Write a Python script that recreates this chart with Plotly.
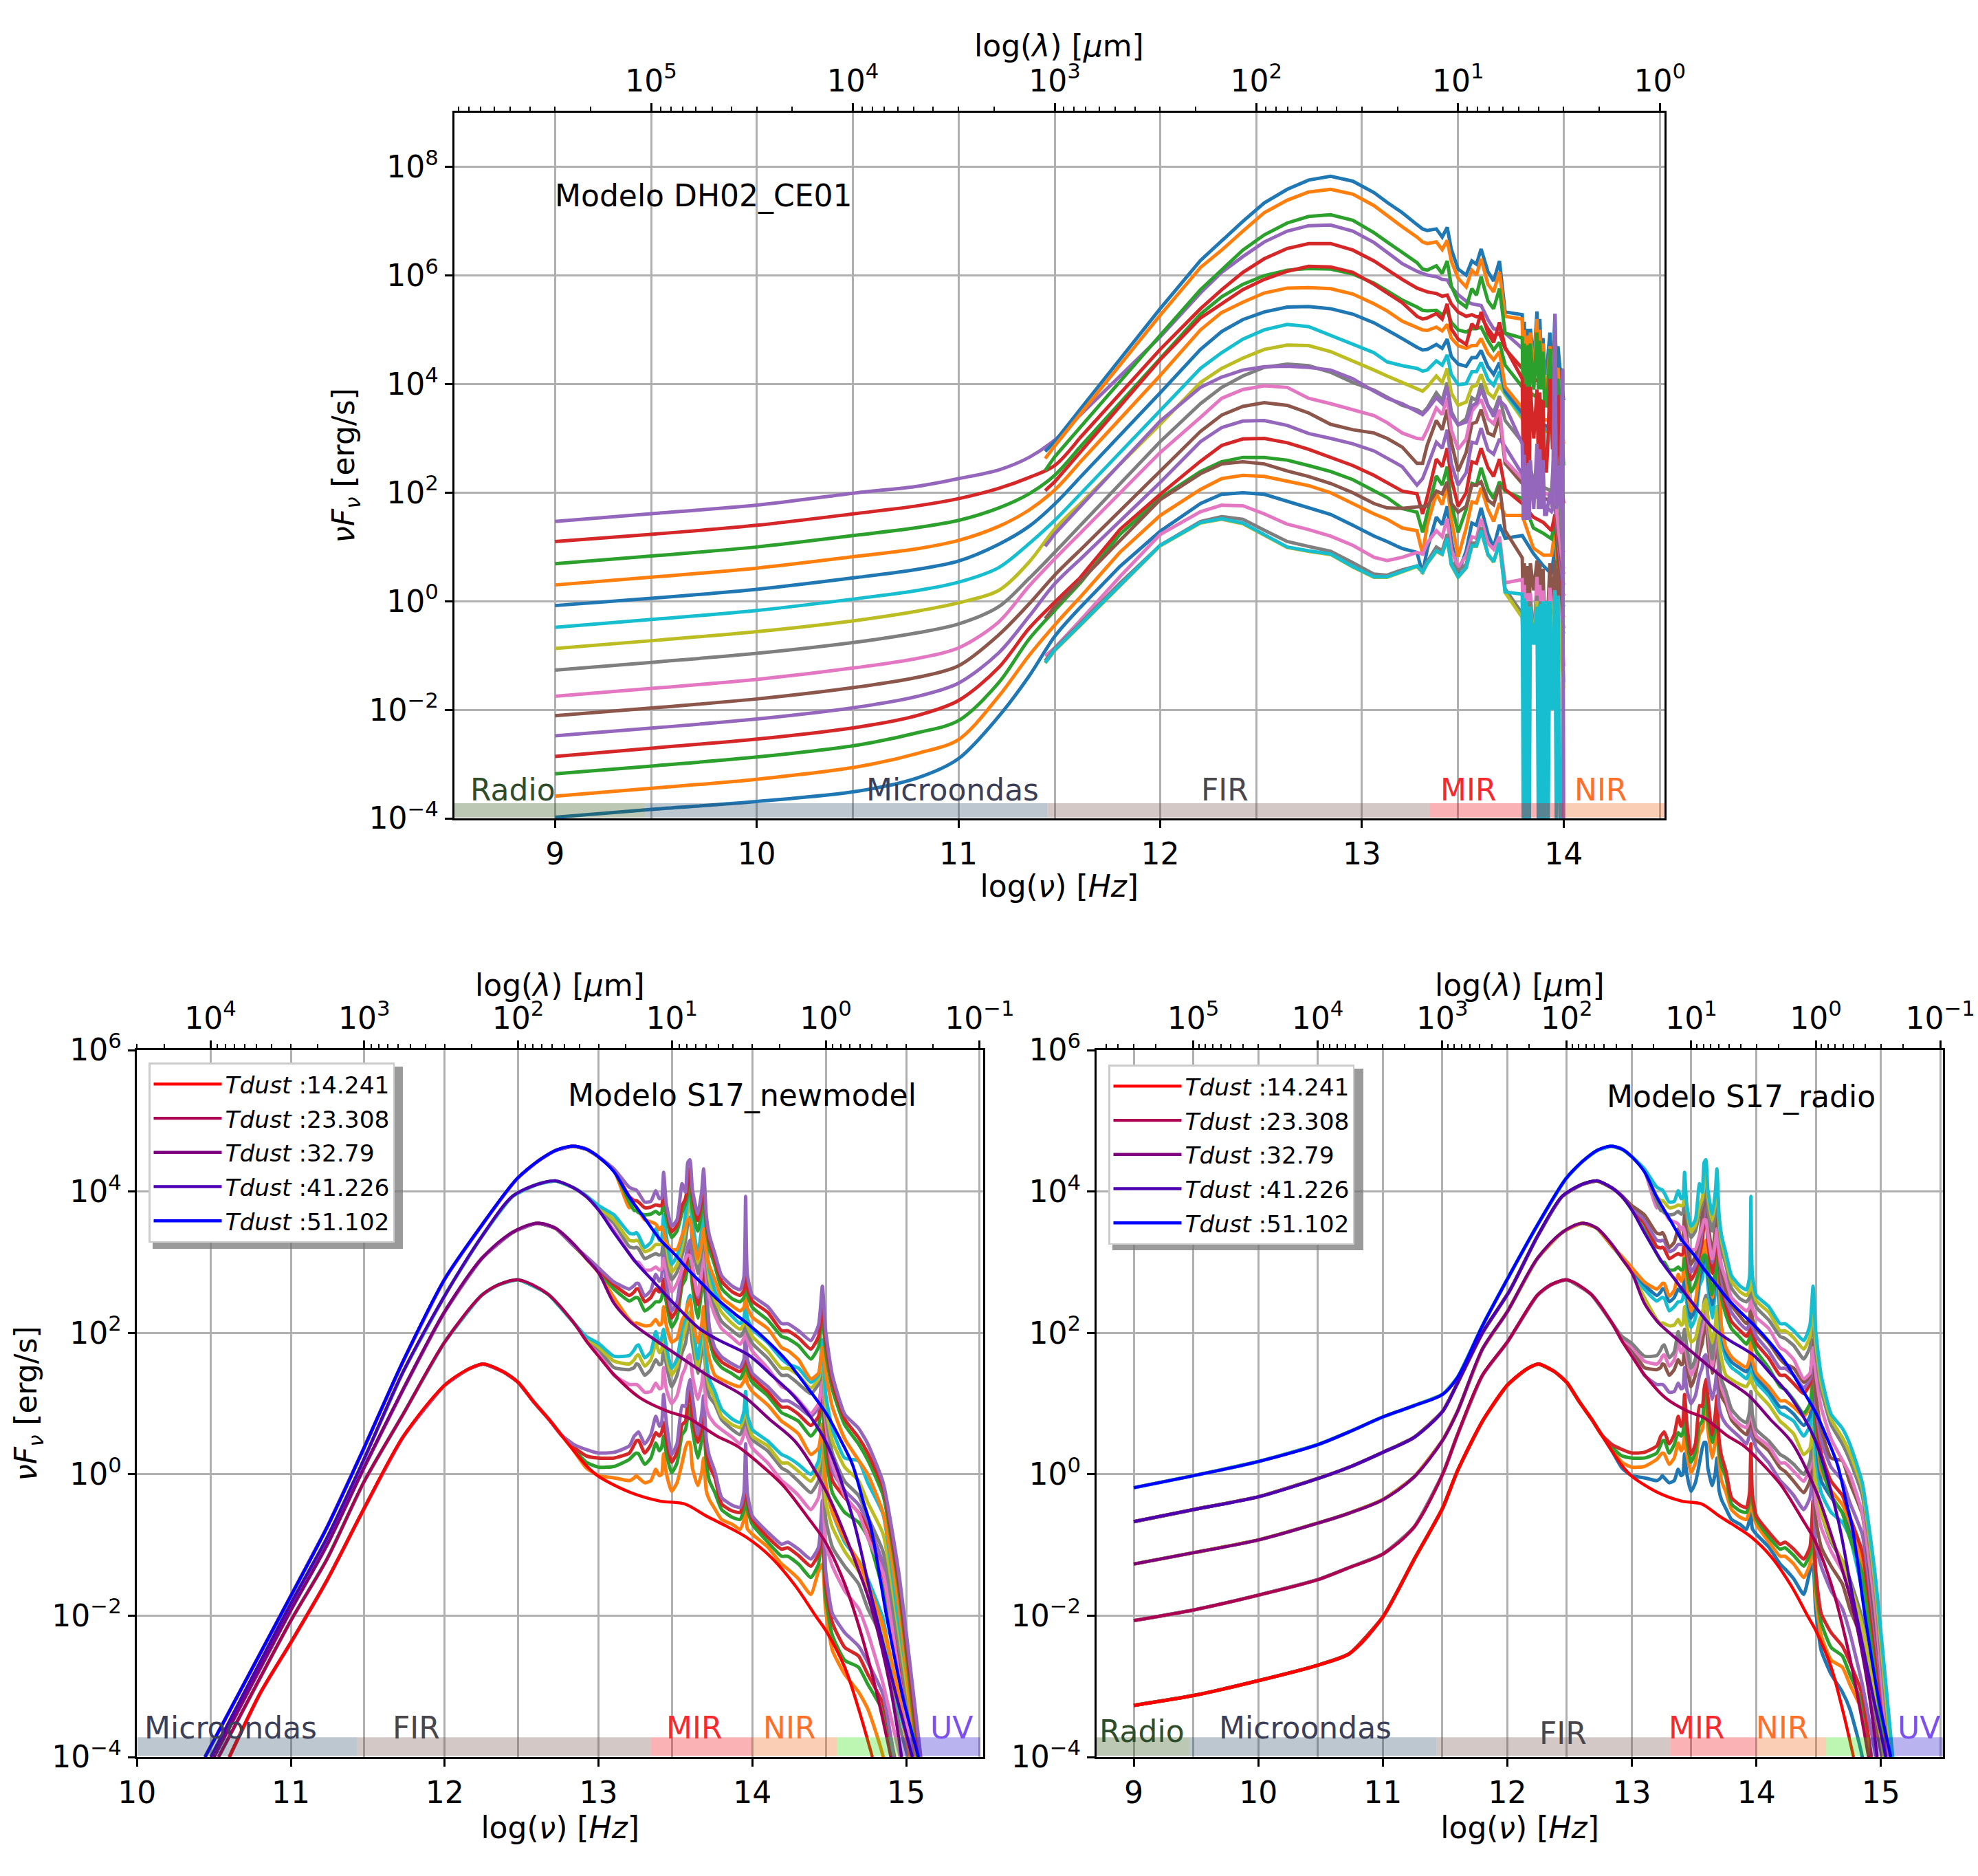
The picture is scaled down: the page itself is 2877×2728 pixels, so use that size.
import plotly.graph_objects as go

# ---------- top panel (DH02_CE01): log10(nu F_nu) ----------
dh_r = [9, 9.5, 10, 10.5, 10.8, 11, 11.2, 11.35, 11.477]
dh_s = [11.43, 11.477]
dh_i = [11.6, 11.8, 12, 12.2, 12.305, 12.41, 12.516, 12.63, 12.736, 12.845, 12.955, 13.06, 13.125, 13.2]
dh_m = [13.273, 13.301, 13.324, 13.369, 13.398, 13.423, 13.443, 13.477, 13.517, 13.545, 13.568, 13.591, 13.625, 13.653, 13.682, 13.71]
dh_t = [13.795, 13.85, 13.9, 13.94, 13.957, 13.975, 13.995, 14.0]
dh_k = [13.795,13.80,13.805,13.81,13.815,13.82,13.825,13.83,13.835,13.852,13.868,13.875,13.882,13.89,13.898,13.906,13.915,13.923,13.932,13.945,13.957,13.964,13.972,13.984,13.995,14.0]

dh00 = [-3.98,-3.83,-3.69,-3.5,-3.25,-2.9,-2.12,-1.38,-.65, -.13,.64,1.29,1.8,1.97,2.0,1.97,1.84,1.71,1.6,1.4,1.2,1.1,.97, .9,.51,.96,1.55,1.41,1.75,1.13,.51,.93,1.44,1.4,1.72,1.24,.99,1.41,1.16, 1.21,.88,.65,.5,1.0,.1,-.5,-.6]
dh01 = [-3.59,-3.44,-3.28,-3.05,-2.8,-2.55,-1.75,-1.0,-.44, .06,.9,1.58,2.06,2.26,2.32,2.3,2.22,2.13,2.0,1.8,1.61,1.51,1.35, 1.3,.87,1.41,1.98,1.78,2.14,1.52,.82,1.35,1.83,1.81,2.09,1.69,1.47,1.81,1.58, 1.58,.98,.85,.85,1.3,.4,-.2,-.3]
dh02 = [-3.18,-3.03,-2.87,-2.65,-2.42,-2.2,-1.5,-.7,-.17, .32,1.23,1.9,2.39,2.57,2.65,2.65,2.6,2.5,2.39,2.24,2.03,1.91,1.71, 1.64,1.27,1.64,2.31,2.14,2.48,1.81,1.27,1.69,2.17,2.14,2.46,2.06,1.89,2.2,2.03, 1.89,1.35,1.25,1.15,1.5,.6,0,-.1]
dh03 = [-2.86,-2.7,-2.54,-2.32,-2.1,-1.83,-1.22,-.5,-.02, .42,1.32,1.97,2.58,2.87,2.99,3.0,2.92,2.8,2.65,2.5,2.32,2.19,2.03, 1.98,1.61,1.92,2.62,2.48,2.82,2.26,1.75,2.0,2.57,2.54,2.82,2.46,2.3,2.62,2.06, 1.8,1.55,1.45,1.3,1.6,.8,.2,.1]
dh04 = [-2.48,-2.33,-2.17,-1.95,-1.75,-1.51,-.95,-.28,.32, .76,1.48,2.19,2.94,3.2,3.32,3.33,3.24,3.09,3.0,2.9,2.77,2.64,2.48, 2.14,2.26,2.48,2.93,2.82,3.16,2.54,2.14,2.37,2.93,2.91,3.19,2.79,2.71,2.99,2.85, 2.34,2.0,1.78,1.65,1.8,1.0,.4,.3]
dh05 = [-2.11,-1.96,-1.80,-1.58,-1.4,-1.19,-.62,-.05,.48, .93,1.66,2.39,3.13,3.43,3.59,3.66,3.61,3.47,3.26,3.16,3.1,3.0,2.84, 2.54,2.54,2.88,3.33,3.16,3.53,2.94,2.4,2.74,3.27,3.3,3.53,3.1,3.05,3.39,2.54, 2.17,2.05,1.9,1.85,1.9,1.1,.6,.5]
dh06 = [-1.75,-1.6,-1.44,-1.22,-1.05,-.86,-.38,.28,.78, 1.24,2.0,2.74,3.39,3.74,3.9,3.97,3.94,3.74,3.64,3.53,3.42,3.29,3.1, 3.0,2.99,3.16,3.56,3.44,3.75,3.16,2.8,2.99,3.5,3.61,3.72,3.36,3.27,3.53,2.6, 2.26,2.15,2.0,1.95,2.0,1.3,.7,.6]
dh07 = [-1.27,-1.12,-.96,-.75,-.58,-.42,-.10,.42,.9, 1.38,2.16,2.94,3.64,3.94,4.15,4.31,4.37,4.34,4.22,4.03,3.89,3.76,3.61, 3.53,3.47,3.56,3.84,3.7,4.03,3.5,3.25,3.36,3.75,3.7,4.01,3.61,3.47,3.78,3.33, 2.93,2.25,2.1,2.03,3.05,2.0,.96,.9]
dh08 = [-.87,-.72,-.56,-.35,-.18,-.03,.20,.72,1.33, 1.78,2.52,3.26,4.03,4.29,4.48,4.64,4.72,4.71,4.6,4.43,4.26,4.15,4.03, 3.92,3.87,3.95,4.15,4.03,4.29,3.84,3.61,3.67,3.95,3.98,4.18,3.84,3.75,3.98,3.81, 3.36,3.25,3.15,3.1,3.3,3.1,3.03,3.03]
dh09 = [-.48,-.33,-.17,.05,.20,.35,.62,1.06,1.49, 1.96,2.73,3.51,4.29,4.58,4.83,5.0,5.1,5.06,4.9,4.74,4.58,4.41,4.34, 4.29,4.24,4.26,4.43,4.35,4.54,4.18,3.99,4.01,4.23,4.23,4.4,4.09,3.98,4.23,3.84, 3.41,3.28,3.18,3.14,3.3,3.12,3.05,3.05]
dh10 = [-.08,.06,.22,.44,.59,.74,1.05,1.38,1.79, 2.27,3.05,3.84,4.64,4.97,5.19,5.33,5.42,5.43,5.39,5.29,5.13,5.0,4.84, 4.68,4.63,4.64,4.73,4.66,4.83,4.51,4.37,4.33,4.49,4.49,4.62,4.32,4.18,4.4,3.87, 3.47,3.33,3.25,3.2,3.3,3.2,3.12,3.12]
dh11 = [.30,.45,.61,.83,.97,1.12,1.38,1.68,2.05, 2.55,3.35,4.16,5.0,5.32,5.51,5.68,5.77,5.78,5.76,5.66,5.48,5.35,5.16, 5.05,5.0,4.99,5.05,4.98,5.1,4.85,4.71,4.66,4.71,4.71,4.84,4.57,4.45,4.6,3.95, 3.56,3.45,3.35,3.32,3.6,3.3,3.27,3.27]
dh12 = [.69,.84,1.00,1.22,1.36,1.49,1.72,1.98,2.32, 2.83,3.65,4.48,5.29,5.61,5.84,6.0,6.1,6.13,6.12,6.03,5.86,5.72,5.55, 5.42,5.36,5.35,5.36,5.28,5.36,5.14,5.0,4.96,5.02,5.02,5.05,4.8,4.63,4.77,4.35, 3.95,3.81,3.67,3.64,3.84,3.6,3.58,3.58]
dh13 = [1.10,1.24,1.40,1.62,1.76,1.89,2.08,2.28,2.5, 3.0,3.82,4.64,5.39,5.74,6.06,6.31,6.5,6.59,6.59,6.47,6.27,6.11,5.93, 5.77,5.73,5.7,5.67,5.62,5.64,5.48,5.33,5.25,5.28,5.24,5.25,5.02,4.88,4.94,4.65, 4.29,4.1,4.0,3.98,4.3,3.95,3.92,3.92]
dh14 = [1.47,1.62,1.77,2.0,2.12,2.26,2.42,2.65,2.97, 3.42,4.15,4.87,5.68,6.06,6.35,6.62,6.82,6.92,6.93,6.82,6.61,6.42,6.22, 6.08,6.04,6.01,5.98,5.93,5.92,5.79,5.65,5.53,5.48,5.46,5.45,5.19,5.02,5.01,4.94, 4.66,4.5,4.38,4.3,4.35,4.28,4.26,-6]
dh15 = [-.32,-.1, .36,1.12,1.87,2.35,2.53,2.57,2.53,2.4,2.3,2.17,2.0,1.8,1.72,1.71, 1.75,1.75,1.75,2.03,1.98,2.2,1.81,1.64,1.75,2.14,2.14,2.2,1.86,1.78,2.14,1.3, .8,-.2,.7,-.2,.65,-.2,.65,-.2,.7,.2,.75,-.1,.7,-.1,.6,-.6,-1.9,-.1,.7,-.2,.75,-.1,.6,0,-.3,-.5]
dh16 = [-1.01,-.86, -.37,.45,1.23,1.65,1.77,1.76,1.61,1.42,1.32,1.2,1.03,.81,.75,.81, .9,.87,1.07,1.3,1.19,1.52,.96,.62,.84,1.19,1.16,1.52,1.07,.96,1.19,.34, .4,-.3,.3,-.3,.15,-.3,.15,-.3,.15,-.74,.45,-.3,.3,-.3,.2,-1,-2.17,-.3,.25,-.4,.2,-.5,.1,-.4,-.8,-1.2]
dh17 = [-1.1,-.87, -.42,.33,1.03,1.47,1.56,1.51,1.31,1.1,1.01,.92,.71,.5,.48,.58, .65,.56,.73,1.0,.93,1.24,.73,.56,.68,1.07,1.07,1.36,.85,.73,1.07,.23, -.23,-1,-.1,-1,-.1,-1,0,-1,0,-.6,.1,-1,0,-1,-.1,-1.5,-2,-1,-.1,-.6,.15,-.7,0,-.6,-1,-1.5]
dh18 = [-1.14,-.91, -.46,.28,1.02,1.44,1.51,1.43,1.22,.99,.92,.86,.63,.44,.44,.54, .64,.53,.69,.92,.86,1.15,.67,.44,.61,1.01,1.01,1.29,.86,.72,1.06,.16, -.3,-1.2,-.2,-1.2,-.2,-1.2,-.1,-1.2,-.1,-.7,0,-1.2,-.1,-1.2,-.2,-1.5,-2,-1.2,-.2,-.7,.1,-.8,0,-.7,-1.2,-1.6]
dh19 = [-1.13,-.9, -.45,.29,1.03,1.45,1.52,1.44,1.23,1.0,.93,.87,.64,.45,.45,.55, .65,.54,.7,.93,.87,1.16,.68,.45,.62,1.02,1.02,1.3,.87,.73,1.07,.17, .13,-4.3,.05,-4.3,0,-4.3,-.1,-4.3,-.1,-.8,-.1,-4.3,-.05,-4.3,0,-4.3,0,-4.3,0,-2,.2,-4.3,.1,-4.3,-5,-5]
dh20 = [2.76,2.94, 3.52,4.45,5.39,6.28,6.65,7.0,7.34,7.59,7.76,7.83,7.74,7.53,7.35,7.16, 6.94,6.86,6.83,6.86,6.71,6.89,6.49,6.12,6.01,6.27,6.21,6.49,6.07,5.9,6.27,5.33, 5.28,4.2,5.15,4.2,5.02,4.2,5.02,4.2,5.02,4.4,5.34,4.4,5.2,4.4,4.85,4.2,4.2,4.5,4.95,4.0,5.3,4.2,4.7,4.2,3.9,3.7]
dh21 = [2.63,2.86, 3.43,4.35,5.27,6.15,6.47,6.82,7.16,7.39,7.54,7.59,7.5,7.29,7.1,6.9, 6.71,6.62,6.59,6.62,6.48,6.65,6.27,5.95,5.79,6.1,6.01,6.31,5.84,5.7,6.07,5.25, 5.2,4.0,5.0,4.0,4.88,4.0,4.9,4.0,4.95,4.2,5.2,4.2,5.0,4.2,4.75,3.8,3.8,4.3,4.7,3.6,5.0,3.5,4.3,3.5,3.0,2.9]
dh22 = [2.41,2.66, 3.19,4.05,4.9,5.74,6.1,6.47,6.75,6.97,7.09,7.12,7.02,6.79,6.62,6.43, 6.24,6.12,6.1,6.18,6.04,6.27,5.81,5.53,5.42,5.76,5.64,5.98,5.53,5.39,5.76,4.94, 4.85,3.5,4.75,3.5,4.7,3.5,4.72,3.5,4.75,3.9,4.95,3.9,4.8,3.9,4.6,3.6,3.6,4.0,4.65,3.5,4.8,3.6,4.1,3.6,2.7,2.5]
dh23 = [2.04,2.2, 2.73,3.59,4.45,5.22,5.48,5.74,5.93,6.08,6.17,6.16,6.06,5.84,5.68,5.5, 5.25,5.2,5.22,5.3,5.2,5.48,5.02,4.83,4.73,5.11,5.02,5.33,4.94,4.77,5.14,4.68, 4.1,2.3,4.0,2.3,3.95,2.3,3.95,2.3,3.95,3.0,3.9,2.5,3.85,2.5,3.7,2.4,2.4,3.0,4.1,2.8,4.3,2.5,3.8,2.5,2.0,1.8]
dh24 = [1.01,1.24, 1.73,2.52,3.32,3.94,4.13,4.26,4.32,4.33,4.31,4.26,4.1,3.87,3.74,3.64, 3.5,3.44,3.53,3.75,3.64,3.95,3.44,3.25,3.3,3.6,3.65,3.9,3.6,3.4,3.7,3.6, 2.9,1.5,2.7,1.5,2.5,1.5,2.55,1.5,2.6,1.7,2.9,1.7,2.8,1.7,2.6,1.6,1.6,1.8,2.0,1.7,5.3,1.7,2.5,1.7,4.26,-6]

# ---------- bottom panels (S17): base curves ----------
b14_x = [10.6,10.8,11,11.235,11.477,11.73,12,12.157,12.25,12.38,12.477,12.58,12.68,12.756,12.84,12.926,13,13.21,13.4,13.56,13.7,13.8,13.96,14.12,14.28,14.41,14.477,14.6,14.7,14.78]
b14_y = [-4,-3.1,-2.38,-1.5,-.48,.53,1.26,1.49,1.56,1.45,1.3,1.02,.77,.56,.33,.11,-.03,-.26,-.38,-.42,-.59,-.7,-.89,-1.17,-1.58,-2.0,-2.21,-2.73,-3.39,-4]
b23_x = [10.53,11,11.235,11.477,11.73,12,12.24,12.35,12.477,12.67,12.84,12.926,13,13.1,13.27,13.45,13.58,13.67,13.77,13.9,14.04,14.2,14.36,14.475,14.6,14.71,14.81,14.9]
b23_y = [-4,-2.07,-1.2,-.1,.85,1.87,2.53,2.68,2.75,2.55,2.14,1.87,1.67,1.41,1.08,.89,.8,.68,.54,.4,.16,-.16,-.61,-.96,-1.55,-2.28,-3.11,-4]
b32_x = [10.5,11,11.235,11.477,11.73,12,12.24,12.44,12.6,12.72,12.85,12.92,13,13.1,13.2,13.25,13.475,13.73,13.94,14.11,14.28,14.477,14.6,14.76,14.89,14.97]
b32_y = [-4,-1.92,-1.0,.1,1.2,2.3,3.05,3.42,3.55,3.48,3.23,3.05,2.85,2.42,2.17,2.08,1.74,1.37,1.11,.78,.46,-.23,-.85,-1.79,-2.94,-4]
b41_x = [10.48,11,11.235,11.477,11.73,12.02,12.24,12.44,12.6,12.72,12.84,12.92,13,13.1,13.2,13.25,13.36,13.475,13.65,13.77,13.98,14.11,14.28,14.47,14.65,14.77,14.94,15.04]
b41_y = [-4,-1.83,-.9,.22,1.45,2.6,3.36,3.93,4.1,4.15,4.05,3.93,3.74,3.42,3.12,2.98,2.72,2.45,2.07,1.91,1.68,1.43,1.08,.49,-.6,-1.7,-3.17,-4]
b51_x = [10.442,11,11.235,11.477,11.73,12,12.24,12.47,12.6,12.72,12.83,12.93,13,13.1,13.2,13.3,13.4,13.5,13.58,13.68,13.77,13.88,13.98,14.1,14.23,14.35,14.48,14.57,14.65,14.72,14.77,14.875,14.98,15.08]
b51_y = [-4,-1.72,-.75,.38,1.6,2.76,3.52,4.18,4.42,4.58,4.64,4.59,4.49,4.28,3.92,3.62,3.32,3.1,2.9,2.68,2.48,2.28,2.11,1.88,1.59,1.25,.86,.5,.14,-.38,-.75,-2.04,-3.17,-4]

# radio extension of the right-hand panel
rad_x = [9,9.48,10,10.48,10.73,11,11.25,11.48,11.6,11.8]
rad14 = [-3.27,-3.13,-2.92,-2.7,-2.54,-2.02,-1.21,-.48,.05,.75]
rad23 = [-2.07,-1.92,-1.71,-1.49,-1.32,-1.13,-.75,0,.56,1.4]
rad32 = [-1.27,-1.11,-.93,-.69,-.55,-.36,-.04,.48,.89,1.77]
rad41 = [-.67,-.5,-.32,-.06,.1,.31,.52,.89,1.29,2.0]
rad51 = [-.19,-.02,.18,.42,.6,.81,.97,1.13,1.37,2.1]

# mid-IR to UV grid of the PAH variants
pah_x = [12.84,12.92,13.0,13.1,13.2,13.232,13.245,13.26,13.3,13.34,13.372,13.395,13.41,13.423,13.44,13.475,13.51,13.543,13.565,13.58,13.594,13.61,13.645,13.67,13.683,13.70,13.72,13.756,13.8,13.87,13.92,13.945,13.956,13.967,14.0,14.1,14.19,14.23,14.3,14.38,14.43,14.455,14.475,14.52,14.6,14.69,14.75,14.85,14.95,15.1]

t14_v0 = [.33,.09,-.02,-.05,-.09,-.05,-.02,-.05,-.12,-.09,.07,-.02,0,.29,.02,-.24,-.12,.16,.37,.45,.45,.09,-.16,.02,.23,-.23,-.36,-.49,-.64,-.71,-.78,-.64,-.52,-.77,-.85,-1.03,-1.27,-1.34,-1.48,-1.7,-1.37,-1.27,-1.9,-2.49,-2.83,-3.08,-3.32,-4.0,-6,-6]
t14_v1 = [.35,.17,.1,.11,.21,.28,.3,.29,.14,.23,.44,.33,.38,.54,.3,.02,.16,.56,.63,.82,.97,.64,.23,.47,.71,.19,-.09,-.26,-.5,-.61,-.64,-.5,-.26,-.5,-.71,-.96,-1.16,-1.16,-1.27,-1.46,-1.27,-.82,-1.72,-2.28,-2.63,-2.73,-2.97,-3.36,-4.5,-6]
t14_v2 = [.38,.26,.23,.23,.30,.42,.47,.48,.3,.42,.59,.54,.59,.73,.5,.17,.31,.7,.75,1.03,1.18,.82,.45,.64,1.0,.35,.12,-.05,-.42,-.52,-.54,-.37,0,-.37,-.64,-.89,-1.06,-1.04,-1.15,-1.3,-1.13,-.75,-1.55,-2.1,-2.45,-2.57,-2.83,-3.25,-4.3,-6]
t14_v3 = [.42,.35,.3,.31,.40,.54,.57,.6,.43,.56,.82,.68,.73,1.13,.75,.28,.43,.97,.96,1.2,1.34,1.1,.56,.85,1.11,.5,.26,.04,-.33,-.44,-.47,-.26,.43,-.26,-.59,-.82,-.99,-.96,-1.06,-1.2,-1.03,-.37,-1.34,-1.97,-2.24,-2.43,-2.66,-3.12,-4.4,-6]

t23_v0 = [2.14,1.89,1.72,1.4,1.27,1.27,1.27,1.25,1.16,1.17,1.29,1.21,1.22,1.51,1.21,1.0,1.11,1.4,1.51,1.66,1.69,1.4,1.06,1.27,1.47,.96,.82,.71,.63,.52,.43,.57,.99,.54,.37,.16,-.09,-.16,-.3,-.5,-.33,.02,-.96,-1.3,-1.65,-1.9,-2.24,-2.97,-3.9,-5.2]
t23_v1 = [2.14,1.92,1.77,1.51,1.48,1.51,1.56,1.55,1.4,1.48,1.62,1.55,1.56,1.79,1.56,1.24,1.4,1.72,1.85,2.05,2.16,1.85,1.43,1.72,1.89,1.37,1.1,.99,.77,.63,.56,.71,1.06,.68,.49,.33,.09,.04,-.1,-.26,-.09,.37,-.61,-1.03,-1.3,-1.55,-1.9,-2.35,-3.5,-4.7]
t23_v2 = [2.14,1.93,1.8,1.6,1.56,1.62,1.67,1.69,1.53,1.62,1.85,1.72,1.76,1.95,1.69,1.4,1.53,1.89,2.05,2.21,2.3,2.05,1.53,1.89,2.05,1.5,1.23,1.06,.82,.7,.66,.82,1.17,.78,.54,.4,.16,.16,.04,-.1,.09,.6,-.37,-.75,-1.09,-1.37,-1.65,-2.2,-3.3,-4.5]
t23_v3 = [2.14,1.95,1.85,1.67,1.68,1.76,1.81,1.83,1.65,1.73,2.02,1.85,1.92,2.05,1.82,1.5,1.63,2.05,2.21,2.44,2.53,2.21,1.63,2.05,2.3,1.65,1.34,1.17,.92,.78,.73,.89,1.17,.85,.63,.47,.28,.24,.14,0,.19,.71,-.12,-.54,-.96,-1.22,-1.48,-2.05,-3.3,-4.4]

t32_v0 = [3.23,3.05,2.85,2.5,2.19,2.13,2.14,2.13,2.1,2.11,2.19,2.11,2.13,2.37,2.11,1.87,1.92,2.18,2.27,2.4,2.47,2.21,1.86,2.11,2.37,1.89,1.63,1.4,1.34,1.27,1.24,1.32,1.46,1.29,1.17,.98,.75,.69,.57,.28,.37,.71,-.09,-.54,-.92,-1.23,-1.55,-2.14,-3.1,-5]
t32_v1 = [3.23,3.06,2.87,2.62,2.45,2.49,2.5,2.49,2.31,2.37,2.44,2.44,2.49,2.67,2.44,2.08,2.21,2.67,2.76,2.96,3.02,2.67,2.21,2.6,2.79,2.37,1.92,1.63,1.51,1.42,1.35,1.46,1.72,1.46,1.3,1.11,.87,.83,.75,.54,.69,1.08,.3,-.26,-.54,-.68,-.89,-1.65,-2.8,-4.9]
t32_v2 = [3.23,3.07,2.89,2.68,2.53,2.58,2.62,2.62,2.44,2.5,2.62,2.58,2.62,2.76,2.57,2.21,2.34,2.76,2.89,3.09,3.22,2.83,2.4,2.76,2.96,2.57,2.05,1.72,1.59,1.5,1.45,1.56,1.85,1.56,1.37,1.17,.95,.95,.85,.69,.82,1.24,.6,-.09,-.33,-.54,-.75,-1.44,-2.6,-4.7]
t32_v3 = [3.23,3.08,2.92,2.72,2.62,2.67,2.7,2.7,2.52,2.6,2.83,2.73,2.79,3.35,2.73,2.31,2.44,2.92,3.05,3.22,3.31,2.96,2.5,2.96,3.28,2.73,2.08,1.79,1.66,1.56,1.51,1.63,2.05,1.63,1.43,1.24,1.04,1.04,.95,.82,.95,1.45,.81,.05,-.23,-.43,-.68,-1.27,-2.4,-4.5]

t41_v0 = [4.05,3.93,3.74,3.45,3.12,3.02,3.0,3.0,2.89,2.89,2.93,2.89,2.9,3.05,2.9,2.58,2.7,2.9,3.05,3.1,3.09,2.95,2.54,2.85,3.15,2.85,2.5,2.25,2.06,1.93,1.84,1.93,2.2,1.9,1.74,1.5,1.24,1.2,1.05,.86,1.0,1.3,.75,.15,-.3,-.55,-.9,-1.4,-2.8,-4.8]
t41_v1 = [4.05,3.93,3.76,3.55,3.22,3.2,3.21,3.19,3.05,3.09,3.12,3.1,3.12,3.35,3.1,2.75,2.86,3.1,3.3,3.55,3.64,3.3,2.84,3.15,3.4,3.05,2.65,2.38,2.16,2.03,1.95,2.03,2.3,2.0,1.85,1.64,1.4,1.4,1.28,1.14,1.28,1.6,.9,.3,-.1,-.3,-.6,-1.1,-2.4,-4.6]
t41_v2 = [4.05,3.94,3.78,3.6,3.31,3.3,3.31,3.3,3.15,3.18,3.25,3.25,3.26,3.5,3.25,2.86,2.96,3.22,3.47,3.73,3.86,3.47,2.99,3.28,3.57,3.18,2.76,2.47,2.29,2.13,2.05,2.13,2.37,2.1,1.95,1.74,1.5,1.5,1.4,1.22,1.35,1.7,1.0,.47,.1,-.09,-.4,-.85,-2.2,-4.4]
t41_v3 = [4.05,3.94,3.8,3.67,3.41,3.4,3.42,3.38,3.21,3.28,3.47,3.31,3.34,3.67,3.38,2.97,3.09,3.34,3.67,3.9,4.03,3.6,3.12,3.47,3.77,3.31,2.89,2.6,2.39,2.23,2.13,2.21,2.44,2.21,2.05,1.86,1.63,1.56,1.5,1.3,1.4,1.9,1.15,.64,.23,.19,-.12,-.57,-2.07,-4.2]

t51_v0 = [4.64,4.6,4.49,4.3,3.77,3.8,3.78,3.73,3.6,3.57,3.54,3.46,3.5,3.43,3.28,3.18,3.18,3.38,3.5,3.6,3.6,3.4,3.05,3.28,3.47,3.15,2.95,2.75,2.5,2.38,2.31,2.36,2.5,2.36,2.22,2.06,1.79,1.75,1.62,1.35,1.43,1.79,1.45,.95,.5,.2,0,-.55,-1.85,-4.7]
t51_v1 = [4.64,4.6,4.49,4.3,3.85,3.73,3.73,3.7,3.67,3.68,3.72,3.68,3.7,3.85,3.65,3.35,3.44,3.7,3.82,3.95,4.09,3.75,3.44,3.7,3.9,3.5,3.2,2.95,2.63,2.48,2.44,2.5,2.95,2.55,2.36,2.18,1.95,1.92,1.82,1.63,1.8,2.3,1.75,1.2,.7,.43,.2,-.3,-1.6,-4.5]
t51_v2 = [4.64,4.6,4.49,4.3,3.93,3.87,3.87,3.85,3.77,3.78,3.81,3.8,3.8,3.95,3.8,3.43,3.52,3.8,3.9,4.1,4.32,3.95,3.59,3.85,4.1,3.6,3.3,3.03,2.73,2.58,2.53,2.6,3.2,2.65,2.45,2.29,2.03,2.03,1.93,1.77,1.95,2.45,1.9,1.3,.78,.52,.3,-.2,-1.5,-4.3]
t51_v3 = [4.64,4.6,4.49,4.32,4.06,4.03,4.02,3.98,3.85,3.86,4.01,3.9,3.91,4.27,3.83,3.51,3.6,4.11,3.99,4.41,4.45,4.03,3.68,3.99,4.32,3.67,3.38,3.12,2.81,2.66,2.61,2.79,3.93,2.83,2.53,2.37,2.13,2.13,2.03,1.89,2.11,2.66,2.05,1.4,.85,.65,.43,-.12,-1.37,-4.1]

tdust_labels = ["14.241", "23.308", "32.79", "41.226", "51.102"]
tdust_colors = ["#ff0000", "#ad0052", "#7f007f", "#4c00b2", "#0000ff"]

top_ticks = [1e5, 1e4, 1e3, 1e2, 1e1, 1e0, 1e-1]
top_text = ["10<sup>5</sup>", "10<sup>4</sup>", "10<sup>3</sup>", "10<sup>2</sup>", "10<sup>1</sup>", "10<sup>0</sup>", "10<sup>−1</sup>"]
y_ticks_top = [1e-4, 1e-2, 1e0, 1e2, 1e4, 1e6, 1e8]
y_text_top = ["10<sup>−4</sup>", "10<sup>−2</sup>", "10<sup>0</sup>", "10<sup>2</sup>", "10<sup>4</sup>", "10<sup>6</sup>", "10<sup>8</sup>"]

W, H = 2877, 2728
BLUE, ORANGE, GREEN, RED, PURPLE = "#1f77b4", "#ff7f0e", "#2ca02c", "#d62728", "#9467bd"
BROWN, PINK, GRAY, OLIVE, CYAN = "#8c564b", "#e377c2", "#7f7f7f", "#bcbd22", "#17becf"
TAB = [BLUE, ORANGE, GREEN, RED, PURPLE, BROWN, PINK, GRAY, OLIVE, CYAN]
LW, LB = 5, 4.4
FONT = "DejaVu Sans"
FS, FL = 44, 34.4


def ten(v):
    return [10.0 ** a for a in v]


fig = go.Figure()


def line(x, ylog, color, xa, ya, width=LW, smooth=None, **kw):
    ln = dict(color=color, width=width)
    if smooth:
        ln.update(shape="spline", smoothing=smooth)
    fig.add_trace(go.Scatter(x=x, y=ten(ylog), mode="lines", line=ln,
                             xaxis=xa, yaxis=ya, hoverinfo="skip", showlegend=kw.pop("showlegend", False), **kw))


# top panel: the radio stretch is smooth, the rest a coarse polyline
dh_rows = [dh00, dh01, dh02, dh03, dh04, dh05, dh06, dh07, dh08, dh09, dh10, dh11, dh12, dh13, dh14,
           dh15, dh16, dh17, dh18, dh19, dh20, dh21, dh22, dh23, dh24]
x_a = dh_r + dh_i + dh_m + dh_t
x_b = dh_s + dh_i + dh_m + dh_k
nr = len(dh_r)
for i, row in enumerate(dh_rows):
    if i < 15:
        assert len(row) == len(x_a)
        line(x_a[:nr + 1], row[:nr + 1], TAB[i % 10], "x", "y", smooth=0.9)
        line(x_a[nr:], row[nr:], TAB[i % 10], "x", "y")
    else:
        assert len(row) == len(x_b)
        line(x_b, row, TAB[i % 10], "x", "y")

groups = [
    (b14_x, b14_y, rad14, 12.76, [t14_v0, t14_v1, t14_v2, t14_v3]),
    (b23_x, b23_y, rad23, 12.68, [t23_v0, t23_v1, t23_v2, t23_v3]),
    (b32_x, b32_y, rad32, 12.73, [t32_v0, t32_v1, t32_v2, t32_v3]),
    (b41_x, b41_y, rad41, 12.73, [t41_v0, t41_v1, t41_v2, t41_v3]),
    (b51_x, b51_y, rad51, 12.835, [t51_v0, t51_v1, t51_v2, t51_v3]),
]
mid_colors = [[ORANGE, GREEN, RED, PURPLE], [PINK, GRAY, OLIVE, CYAN], [ORANGE, GREEN, RED, PURPLE],
              [PINK, GRAY, OLIVE, CYAN], [ORANGE, GREEN, RED, PURPLE]]
right_colors = [[BLUE, ORANGE, GREEN, RED], [PURPLE, BROWN, PINK, GRAY], [OLIVE, CYAN, BLUE, ORANGE],
                [GREEN, RED, PURPLE, BROWN], [PINK, GRAY, OLIVE, CYAN]]

# middle panel: variants, then base curves
for (bx, by, rad, cut, vs), cols in zip(groups, mid_colors):
    px = [a for a in bx if a <= cut]
    py = by[:len(px)]
    for v, c in zip(vs, cols):
        assert len(v) == len(pah_x)
        line(px + pah_x, py + v, c, "x3", "y2", smooth=0.5)
for k, (bx, by, rad, cut, vs) in enumerate(groups):
    line(bx, by, tdust_colors[k], "x3", "y2", width=LB, smooth=0.9, showlegend=True,
         name="<i>Tdust</i> :" + tdust_labels[k], legend="legend", legendgroup="m%d" % k)

# right panel: same model plus radio emission
for (bx, by, rad, cut, vs), cols in zip(groups, right_colors):
    keep = [i for i, a in enumerate(bx) if 11.95 <= a <= cut]
    px = rad_x + [bx[i] for i in keep]
    py = rad + [by[i] for i in keep]
    for v, c in zip(vs, cols):
        line(px + pah_x, py + v, c, "x5", "y3", smooth=0.5)
for k, (bx, by, rad, cut, vs) in enumerate(groups):
    keep = [i for i, a in enumerate(bx) if a >= 11.95]
    line(rad_x + [bx[i] for i in keep], rad + [by[i] for i in keep], tdust_colors[k], "x5", "y3", width=LB, smooth=0.9,
         showlegend=True, name="<i>Tdust</i> :" + tdust_labels[k], legend="legend2", legendgroup="r%d" % k)

# the upper wavelength axes need a trace of their own to be drawn; this one stays off-scale
for xa, ya in [("x2", "y"), ("x4", "y2"), ("x6", "y3")]:
    fig.add_trace(go.Scatter(x=[1e3], y=[1e-30], mode="lines", line=dict(width=0), xaxis=xa, yaxis=ya,
                             hoverinfo="skip", showlegend=False))

GRID = "#b0b0b0"
C = 14.477
minor_vals = [m * 10.0 ** k for k in range(-2, 7) for m in range(2, 10)]


def base_x(rng, dom, ticks, anchor):
    return dict(domain=dom, range=rng, anchor=anchor, tickmode="array", tickvals=ticks, ticktext=[str(t) for t in ticks],
                ticks="outside", ticklen=11, tickwidth=2.5, tickcolor="black", showline=True, linecolor="black",
                linewidth=2.5, showgrid=True, gridcolor=GRID, gridwidth=2.5, zeroline=False,
                tickfont=dict(family=FONT, size=FS, color="black"),
                title=dict(text="log(<i>ν</i>) [<i>Hz</i>]", font=dict(family=FONT, size=FS, color="black"), standoff=8))


def top_x(rng, dom, over, anchor, shown):
    return dict(domain=dom, type="log", range=[C - rng[0], C - rng[1]], overlaying=over, anchor=anchor, side="top",
                tickmode="array", tickvals=top_ticks[shown:], ticktext=top_text[shown:],
                ticks="outside", ticklen=11, tickwidth=2.5, tickcolor="black", showline=True, linecolor="black",
                linewidth=2.5, showgrid=True, gridcolor=GRID, gridwidth=2.5, zeroline=False,
                minor=dict(tickmode="array", tickvals=minor_vals, ticks="outside", ticklen=6, tickwidth=1.9,
                           tickcolor="black", showgrid=False),
                tickfont=dict(family=FONT, size=FS, color="black"))


def y_axis(rng, dom, anchor, ticks, text, title=True):
    d = dict(domain=dom, type="log", range=rng, anchor=anchor, tickmode="array", tickvals=ticks, ticktext=text,
             ticks="outside", ticklen=11, tickwidth=2.5, tickcolor="black", showline=True, linecolor="black",
             linewidth=2.5, mirror=True, showgrid=True, gridcolor=GRID, gridwidth=2.5, zeroline=False,
             tickfont=dict(family=FONT, size=FS, color="black"))
    if title:
        d["title"] = dict(text="<i>νF<sub>ν</sub></i> [erg/s]", font=dict(family=FONT, size=FS, color="black"), standoff=8)
    return d


def dx(a, b):
    return [a / W, b / W]


def dy(top, bottom):
    return [1 - bottom / H, 1 - top / H]


def legend_at(left, top):
    return dict(x=left / W, y=1 - top / H, xanchor="left", yanchor="top", bgcolor="white", bordercolor="#cccccc",
                borderwidth=2.5, font=dict(family=FONT, size=FL, color="black"), tracegroupgap=2, itemwidth=99,
                entrywidth=272, entrywidthmode="pixels", traceorder="grouped", itemclick=False, itemdoubleclick=False)


bands = {
    "Radio": "rgba(38,72,5,0.3)", "Micro": "rgba(38,68,95,0.3)", "FIR": "rgba(108,72,62,0.3)",
    "MIR": "rgba(238,0,5,0.3)", "NIR": "rgba(238,92,5,0.3)", "Vis": "rgba(38,222,0,0.3)", "UV": "rgba(22,5,205,0.3)",
}
band_edges = {
    "x": [("Radio", 8.5, 9.447), ("Micro", 9.447, 11.44), ("FIR", 11.44, 13.335), ("MIR", 13.335, 14.0), ("NIR", 14.0, 14.5)],
    "x3": [("Micro", 10.0, 11.43), ("FIR", 11.43, 13.34), ("MIR", 13.34, 14.0), ("NIR", 14.0, 14.55), ("Vis", 14.55, 14.95), ("UV", 14.95, 15.48)],
    "x5": [("Radio", 8.7, 9.445), ("Micro", 9.445, 11.43), ("FIR", 11.43, 13.31), ("MIR", 13.31, 14.0), ("NIR", 14.0, 14.56), ("Vis", 14.56, 14.91), ("UV", 14.91, 15.5)],
}
ymap = {"x": "y", "x3": "y2", "x5": "y3"}
shapes = []
for xa, items in band_edges.items():
    for nm, a, b in items:
        shapes.append(dict(type="rect", xref=xa, yref=ymap[xa], x0=a, x1=b, y0=10 ** -3.985, y1=10 ** -3.72,
                           fillcolor=bands[nm], line=dict(width=0), layer="above"))
for l, t, r, b in [(222, 1551, 586, 1816), (1618, 1554, 1983, 1818)]:
    shapes.append(dict(type="rect", xref="paper", yref="paper", x0=l / W, x1=r / W, y0=1 - b / H, y1=1 - t / H,
                       fillcolor="rgba(120,120,120,0.75)", line=dict(width=0), layer="above"))

TXT = {"Radio": "#2e4d2a", "Microondas": "#3b3f58", "FIR": "#4a464c", "MIR": "#f8282f", "NIR": "#ff6f2a", "UV": "#7a50f0"}
labels = [
    ("x", "y", "Radio", 8.578, -3.81), ("x", "y", "Microondas", 10.54, -3.81), ("x", "y", "FIR", 12.2, -3.81),
    ("x", "y", "MIR", 13.385, -3.81), ("x", "y", "NIR", 14.05, -3.81),
    ("x3", "y2", "Microondas", 10.045, -3.84), ("x3", "y2", "FIR", 11.655, -3.84), ("x3", "y2", "MIR", 13.435, -3.84),
    ("x3", "y2", "NIR", 14.065, -3.84), ("x3", "y2", "UV", 15.15, -3.84),
    ("x5", "y3", "Radio", 8.72, -3.89), ("x5", "y3", "Microondas", 9.68, -3.84), ("x5", "y3", "FIR", 12.25, -3.92),
    ("x5", "y3", "MIR", 13.29, -3.84), ("x5", "y3", "NIR", 13.99, -3.84), ("x5", "y3", "UV", 15.13, -3.84),
]
ann = [dict(xref=a, yref=b, x=x, y=y, text=t, showarrow=False, xanchor="left", yanchor="bottom", borderpad=0,
            font=dict(family=FONT, size=FS, color=TXT[t])) for a, b, t, x, y in labels]
for a, b, t, x, y in [("x", "y", "Modelo DH02_CE01", 8.995, 7.47), ("x3", "y2", "Modelo S17_newmodel", 12.795, 5.36),
                      ("x5", "y3", "Modelo S17_radio", 12.79, 5.34)]:
    ann.append(dict(xref=a, yref=b, x=x, y=y, text=t, showarrow=False, xanchor="left", yanchor="middle", borderpad=0,
                    font=dict(family=FONT, size=FS, color="black")))
for cx, cy in [(1540.7, 67), (814.6, 1432), (2210.5, 1432)]:
    ann.append(dict(xref="paper", yref="paper", x=cx / W, y=1 - cy / H, text="log(<i>λ</i>) [<i>μ</i>m]", showarrow=False,
                    xanchor="center", yanchor="middle", borderpad=0, font=dict(family=FONT, size=FS, color="black")))

fig.update_layout(
    width=W, height=H, autosize=False, margin=dict(l=0, r=0, t=0, b=0, autoexpand=False), paper_bgcolor="white", plot_bgcolor="white",
    font=dict(family=FONT, size=FS, color="black"), shapes=shapes, annotations=ann,
    xaxis=base_x([8.5, 14.5], dx(660.5, 2421), [9, 10, 11, 12, 13, 14], "y"),
    xaxis2=top_x([8.5, 14.5], dx(660.5, 2421), "x", "y", 0),
    yaxis=y_axis([-4, 9], dy(164, 1190), "x", y_ticks_top, y_text_top),
    xaxis3=base_x([10, 15.5], dx(199.3, 1430), [10, 11, 12, 13, 14, 15], "y2"),
    xaxis4=top_x([10, 15.5], dx(199.3, 1430), "x3", "y2", 1),
    yaxis2=y_axis([-4, 6], dy(1527, 2555), "x3", y_ticks_top[:6], y_text_top[:6]),
    xaxis5=base_x([8.7, 15.5], dx(1594.7, 2826.4), [9, 10, 11, 12, 13, 14, 15], "y3"),
    xaxis6=top_x([8.7, 15.5], dx(1594.7, 2826.4), "x5", "y3", 0),
    yaxis3=y_axis([-4, 6], dy(1527, 2555), "x5", y_ticks_top[:6], y_text_top[:6], title=False),
    legend=legend_at(216, 1545), legend2=legend_at(1612, 1548),
)

fig.write_html("out.html", config={"displayModeBar": False}, post_script="document.body.style.margin='0';")
